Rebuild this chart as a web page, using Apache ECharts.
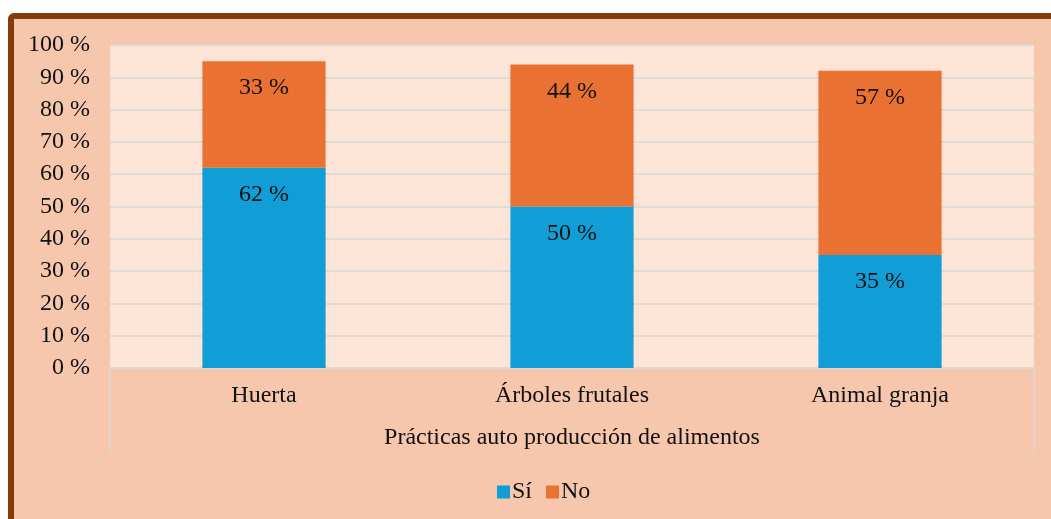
<!DOCTYPE html>
<html>
<head>
<meta charset="utf-8">
<script src="https://cdn.jsdelivr.net/npm/echarts@6/dist/echarts.min.js"></script>
<style>
  html, body { margin: 0; padding: 0; background: #fff; }
  #chart { width: 1051px; height: 519px; }
</style>
</head>
<body>
<div id="chart"></div>
<script>
// datos
const categorias = ['Huerta', 'Árboles frutales', 'Animal granja']
const valoresSi = [62, 50, 35]
const valoresNo = [33, 44, 57]
const nombresSeries = ['Sí', 'No']

// posiciones del área de trazado
const gridLeft = 110
const gridRight = 17
const gridTop = 45
const gridBottom = 151
const W = 1051
const H = 519

const fuente = '"Liberation Serif", "Times New Roman", serif'
const textoColor = '#111'
const tam = 24

const chart = echarts.init(document.getElementById('chart'), null, { renderer: 'canvas' })

const etiqueta = {
  show: true,
  position: 'insideTop',
  distance: 15,
  color: textoColor,
  fontFamily: fuente,
  fontSize: tam,
  formatter: p => p.value + ' %'
}

const option = {
  backgroundColor: '#fff',
  animation: false,
  textStyle: { fontFamily: fuente },
  graphic: [
    // marco exterior
    {
      type: 'rect',
      z: -10,
      shape: { x: 11, y: 16, width: 1100, height: 600, r: 3 },
      style: { fill: '#F6C7AD', stroke: '#843C0C', lineWidth: 6 }
    },
    // lineas del cuadro de categorias
    {
      type: 'line',
      z: 1,
      shape: { x1: gridLeft, y1: H - gridBottom, x2: gridLeft, y2: 453 },
      style: { stroke: '#D9D9D9', lineWidth: 1.5 }
    },
    {
      type: 'line',
      z: 1,
      shape: { x1: W - gridRight, y1: H - gridBottom, x2: W - gridRight, y2: 453 },
      style: { stroke: '#D9D9D9', lineWidth: 1.5 }
    }
  ],
  grid: {
    left: gridLeft,
    right: gridRight,
    top: gridTop,
    bottom: gridBottom,
    show: true,
    backgroundColor: '#FCE4D6',
    borderWidth: 0
  },
  legend: {
    data: nombresSeries,
    left: 492,
    top: 475,
    itemWidth: 13,
    itemHeight: 13,
    itemGap: 14,
    icon: 'rect',
    textStyle: { color: textoColor, fontFamily: fuente, fontSize: tam, padding: [0, 0, 0, -3] }
  },
  xAxis: {
    type: 'category',
    data: categorias,
    name: 'Prácticas auto producción de alimentos',
    nameLocation: 'middle',
    nameGap: 58,
    nameTextStyle: { color: textoColor, fontFamily: fuente, fontSize: tam },
    axisLine: { show: true, lineStyle: { color: '#D9D9D9', width: 1.5 } },
    axisTick: { show: false },
    axisLabel: { color: textoColor, fontFamily: fuente, fontSize: tam, margin: 16 }
  },
  yAxis: {
    type: 'value',
    min: 0,
    max: 100,
    interval: 10,
    axisLine: { show: false },
    axisTick: { show: false },
    splitLine: { lineStyle: { color: '#D9D9D9', width: 1.5 } },
    axisLabel: {
      color: textoColor,
      fontFamily: fuente,
      fontSize: tam,
      margin: 20,
      formatter: v => v + ' %'
    }
  },
  series: [
    {
      name: nombresSeries[0],
      type: 'bar',
      stack: 'total',
      barWidth: '40%',
      data: valoresSi,
      itemStyle: { color: '#119ED6' },
      label: etiqueta
    },
    {
      name: nombresSeries[1],
      type: 'bar',
      stack: 'total',
      barWidth: '40%',
      data: valoresNo,
      itemStyle: { color: '#E97132' },
      label: etiqueta
    }
  ]
}

chart.setOption(option)
</script>
</body>
</html>
